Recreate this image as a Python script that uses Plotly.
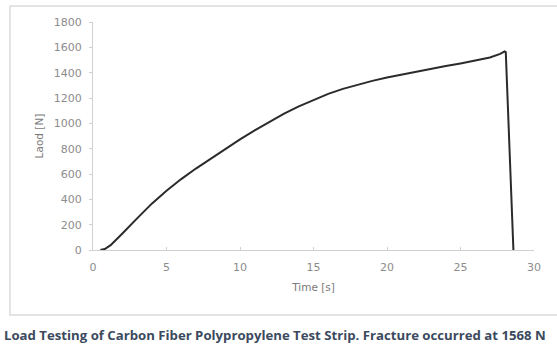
import plotly.graph_objects as go

time_s = [0.5, 0.8, 1.2, 1.6, 2, 3, 4, 5, 6, 7, 8, 9, 10, 11, 12, 13, 14, 15, 16, 17, 18,
          19, 20, 21, 22, 23, 24, 25, 26, 27, 27.7, 28.0, 28.08, 28.6]
load_n = [0, 8, 38, 82, 130, 250, 366, 468, 560, 643, 722, 800, 873, 944, 1012, 1076, 1134,
          1186, 1233, 1272, 1305, 1335, 1362, 1386, 1408, 1430, 1452, 1473, 1495, 1520,
          1548, 1568, 1562, 0]

x_ticks = [0, 5, 10, 15, 20, 25, 30]
y_ticks = [0, 200, 400, 600, 800, 1000, 1200, 1400, 1600, 1800]
caption = "Load Testing of Carbon Fiber Polypropylene Test Strip. Fracture occurred at 1568 N"

W, H = 557, 348
L, R, T, B = 93, 23, 22, 98
pw, ph = W - L - R, H - T - B

def px(x):
    return (x - L) / pw

def py(y):
    return (H - B - y) / ph

tick_font = dict(family="DejaVu Sans", size=11, color="#8c8c8c")
title_font = dict(family="DejaVu Sans", size=10.5, color="#7a7a7a")

fig = go.Figure()
fig.add_trace(go.Scatter(x=time_s, y=load_n, mode="lines",
                         line=dict(color="#2b2b2b", width=2), showlegend=False))

fig.update_layout(
    width=W, height=H,
    margin=dict(l=L, r=R, t=T, b=B),
    paper_bgcolor="white", plot_bgcolor="white",
    xaxis=dict(range=[0, 30], tickvals=x_ticks, showgrid=False, zeroline=False,
               showline=True, linecolor="#d0d0d0", linewidth=1,
               ticks="inside", ticklen=3, tickcolor="#d0d0d0",
               tickfont=tick_font, ticklabelstandoff=7,
               title=dict(text="Time [s]", font=title_font, standoff=10)),
    yaxis=dict(range=[0, 1800], tickvals=y_ticks, showgrid=False, zeroline=False,
               showline=True, linecolor="#d0d0d0", linewidth=1,
               ticks="outside", ticklen=3, tickcolor="#d0d0d0",
               tickfont=tick_font, ticklabelstandoff=5,
               title=dict(text="Laod [N]", font=title_font, standoff=8)),
    shapes=[dict(type="rect", xref="paper", yref="paper",
                 x0=px(10), x1=px(W + 5), y0=py(315), y1=py(6),
                 line=dict(color="#dcdcdc", width=1.5), layer="below")],
    annotations=[dict(text="<b>" + caption + "</b>", xref="paper", yref="paper",
                      x=px(2), y=py(335), xanchor="left", yanchor="middle",
                      showarrow=False,
                      font=dict(family="Open Sans", size=13.2, color="#3b4a5e"))],
)

fig.write_html("out.html")
